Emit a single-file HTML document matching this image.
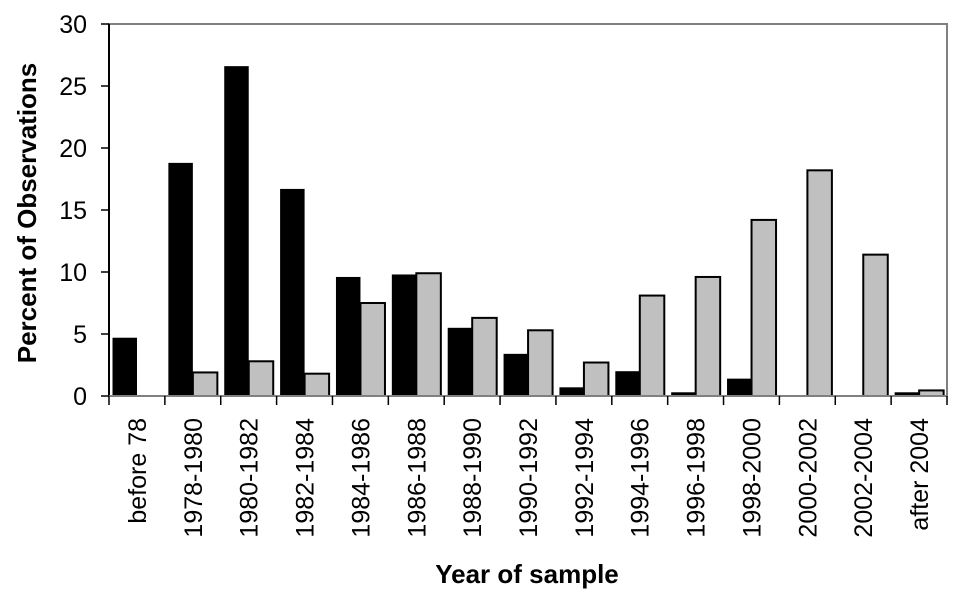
<!DOCTYPE html>
<html><head><meta charset="utf-8"><style>
html,body{margin:0;padding:0;background:#fff;}
svg{display:block;font-family:"Liberation Sans",Arial,sans-serif;}
</style></head><body>
<svg id="chart" width="961" height="600" xmlns="http://www.w3.org/2000/svg">
<rect x="109" y="24" width="838" height="372" fill="#fff" stroke="#808080" stroke-width="2"/>
<g id="bars"></g>
<line x1="109" y1="24" x2="109" y2="396" stroke="#000" stroke-width="2"/>
<line x1="109" y1="396" x2="947" y2="396" stroke="#808080" stroke-width="2"/>
<g id="axes"></g>
<text x="0" y="0" transform="translate(36,213) rotate(-90)" text-anchor="middle" font-size="26" font-weight="bold">Percent of Observations</text>
<text x="527" y="583" text-anchor="middle" font-size="26" font-weight="bold">Year of sample</text>
</svg>
<script>
const categories = ["before 78","1978-1980","1980-1982","1982-1984","1984-1986","1986-1988","1988-1990","1990-1992","1992-1994","1994-1996","1996-1998","1998-2000","2000-2002","2002-2004","after 2004"];
const seriesBlack = [4.7,18.8,26.6,16.7,9.6,9.8,5.5,3.4,0.7,2.0,0.3,1.4,0,0,0.3];
const seriesGray = [0,1.9,2.8,1.8,7.5,9.9,6.3,5.3,2.7,8.1,9.6,14.2,18.2,11.4,0.45];
const yTicks = [0,5,10,15,20,25,30];

const NS="http://www.w3.org/2000/svg";
const L=109,R=947,T=24,B=396,YMAX=30;
const band=(R-L)/categories.length;
const y=v=>B-(v/YMAX)*(B-T);
const x=i=>L+i*band;
const barW=24.5, off=3.5;
const bars=document.getElementById('bars'), axes=document.getElementById('axes');
function mk(tag,attrs,parent){const e=document.createElementNS(NS,tag);for(const k in attrs)e.setAttribute(k,attrs[k]);parent.appendChild(e);return e;}
categories.forEach((c,i)=>{
  const b=seriesBlack[i];
  if(b>0){
    const r=mk('rect',{x:x(i)+off,y:y(b),width:barW,height:B-y(b),fill:'#000'},bars);
    
    
  }
  const g=seriesGray[i];
  if(g>0){
    const r=mk('rect',{x:x(i)+off+barW,y:y(g),width:barW,height:B-y(g),fill:'#c0c0c0',stroke:'#000','stroke-width':2},bars);
    
    
  }
  const t=mk('line',{x1:x(i),x2:x(i),y1:B,y2:B+9,stroke:'#000','stroke-width':1.5},axes);
  
  
  const cx=x(i)+band/2+9;
  const lb=mk('text',{x:0,y:0,transform:`translate(${cx},418) rotate(-90)`,'text-anchor':'end','font-size':25},axes);
  lb.textContent=c;
  
  
});
const tl=mk('line',{x1:R,x2:R,y1:B,y2:B+9,stroke:'#000','stroke-width':1.5},axes);


yTicks.forEach(v=>{
  const t=mk('line',{x1:L-8,x2:L,y1:y(v),y2:y(v),stroke:'#000','stroke-width':1.5},axes);
  
  
  const lb=mk('text',{x:L-22,y:y(v)+9,'text-anchor':'end','font-size':25},axes);
  lb.textContent=v;
  
  
});
</script>
</body></html>
